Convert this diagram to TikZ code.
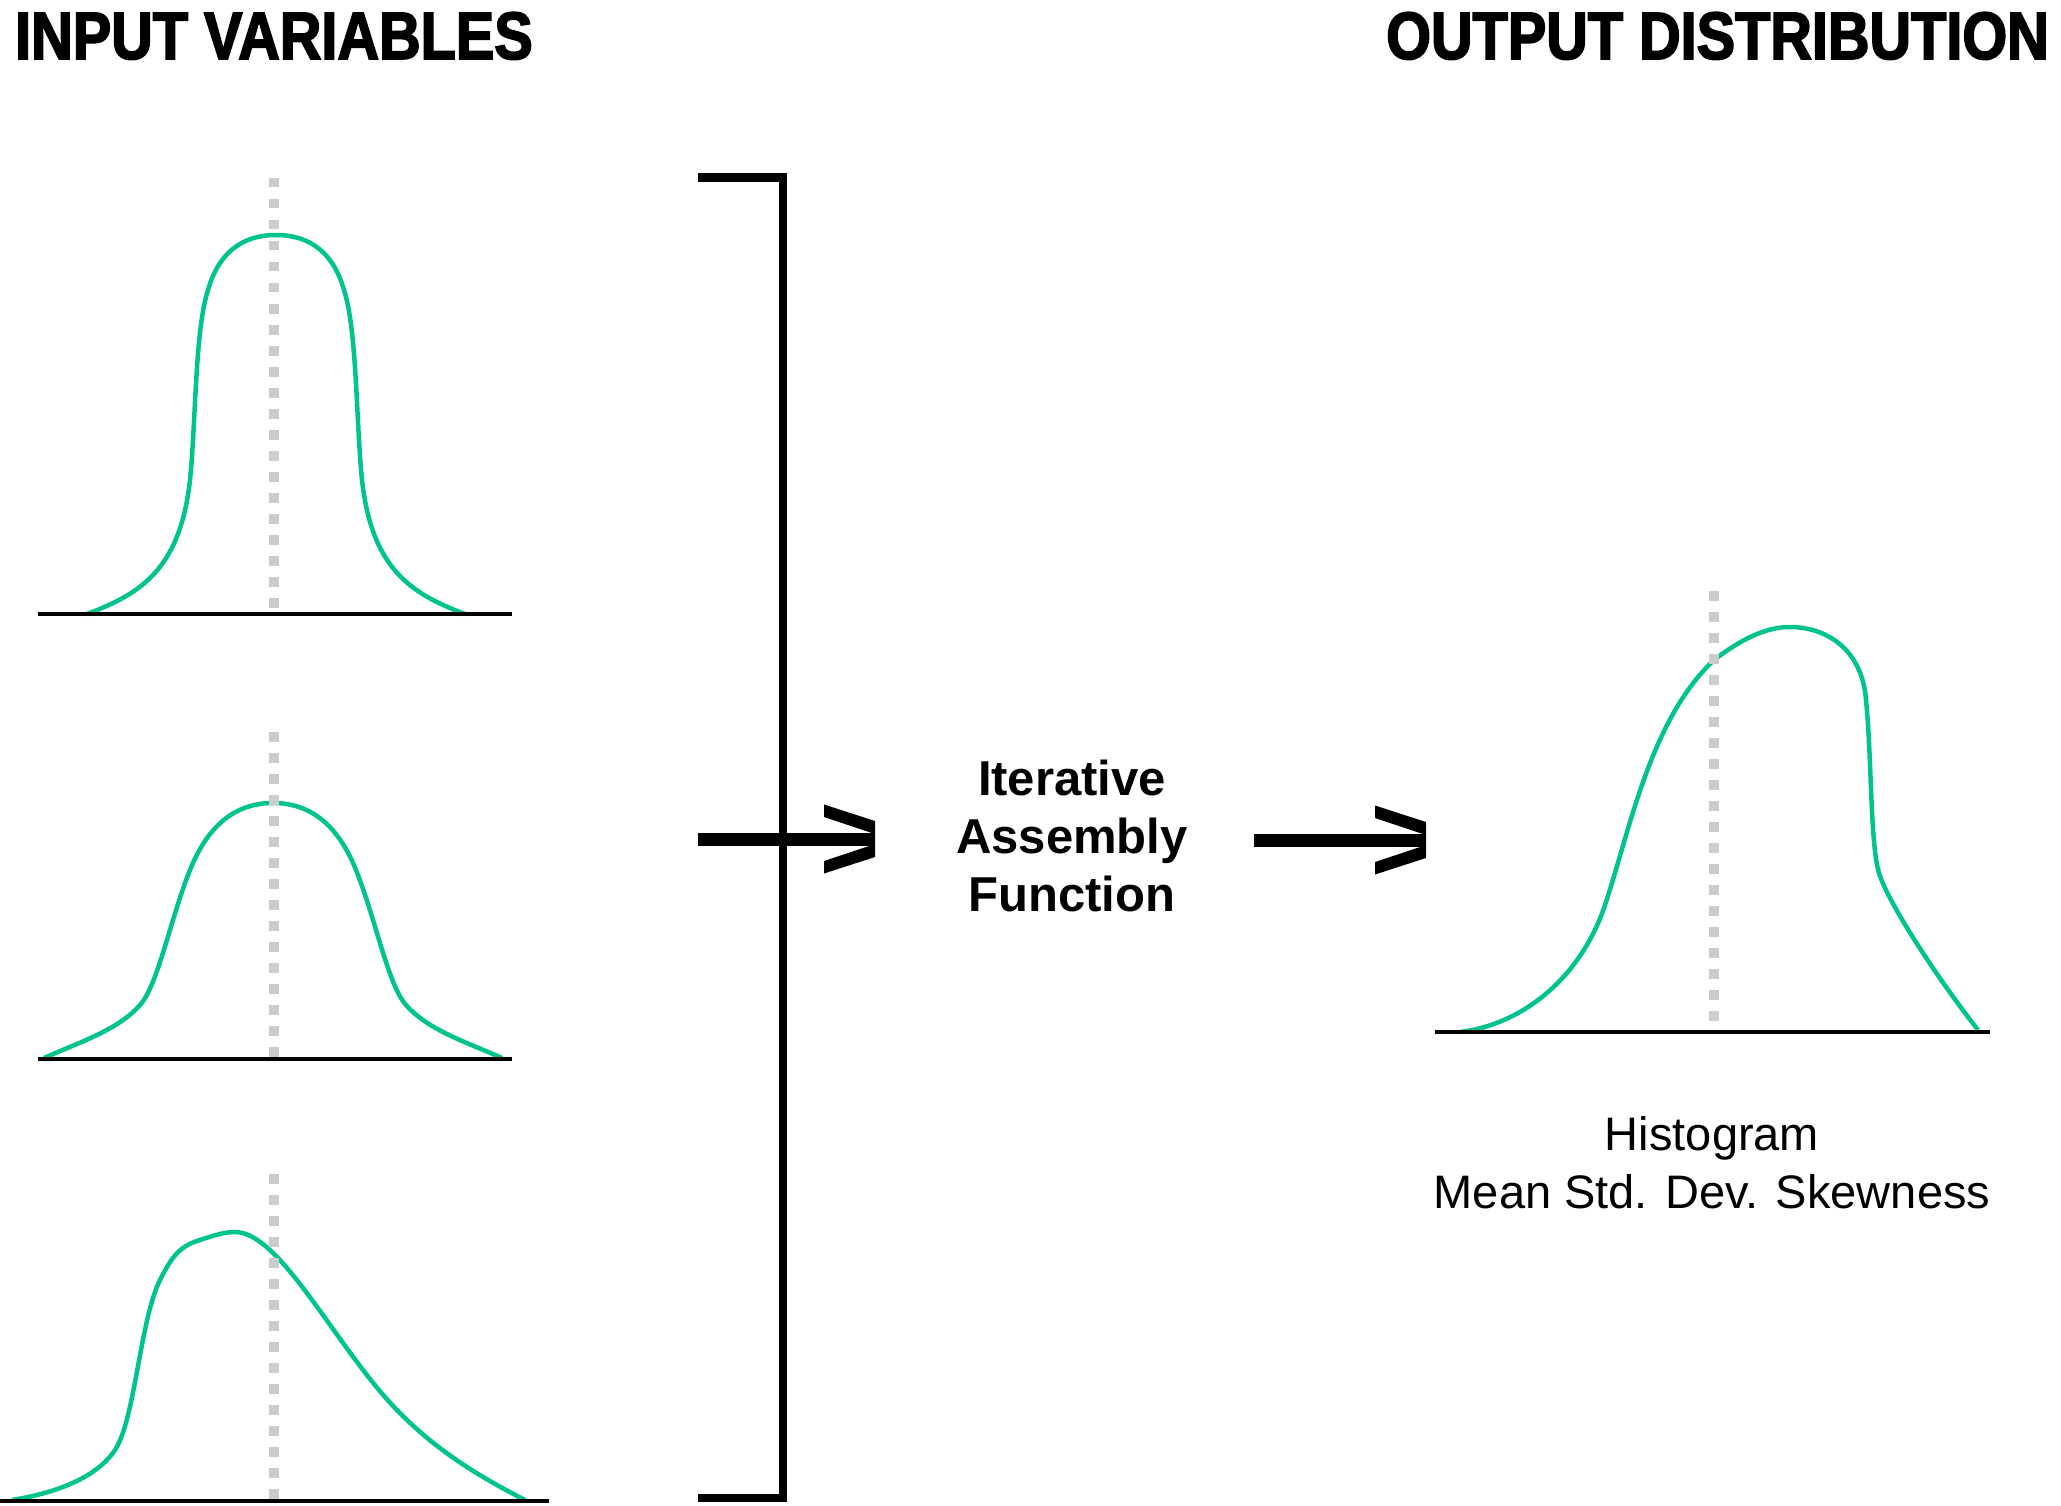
\documentclass[tikz,border=0pt]{standalone}
\usepackage{fontspec}
\setmainfont{Liberation Sans}
\newfontfamily\headfont[FakeStretch=0.86,BoldFeatures={FakeBold=2.5}]{Liberation Sans}
\usepackage{tikz}
\definecolor{curvegreen}{HTML}{00C48C}
\definecolor{meangray}{HTML}{CCCCCC}

\begin{document}
\begin{tikzpicture}[x=1pt, y=-1pt,
        distcurve/.style={curvegreen, line width=4.5pt},
        baseaxis/.style={black, line width=4.5pt},
        meanmark/.style={meangray, line width=9.5pt, dash pattern=on 9.5pt off 11.5pt},
        arrowshaft/.style={black, line width=13pt},
        headtxt/.style={inner sep=0pt, font=\headfont\bfseries\fontsize{67}{70}\selectfont},
        bodytxt/.style={inner sep=0pt, align=center},
        chevron/.pic={\fill[black] (-51,-34.5) -- (0,-18) -- (0,18) -- (-51,34.5) -- (-51,22) -- (0,5) -- (0,-5) -- (-51,-22) -- cycle;}]
        \useasboundingbox (0,0) rectangle (2061,1506);

        % Titles
        \node[headtxt, anchor=base west] (intitle) at (15,59) {INPUT VARIABLES};
        \node[headtxt, anchor=base east] (outtitle) at (2049,59) {OUTPUT DISTRIBUTION};

        % Input variables
        \draw[distcurve] (87,614) .. controls (140,594) and (180,570) .. (190,480)
            .. controls (196,420) and (195,330) .. (208,290)
            .. controls (218,255) and (240,235) .. (276,235)
            .. controls (312,235) and (334,255) .. (344,290)
            .. controls (357,330) and (356,420) .. (362,480)
            .. controls (372,570) and (412,594) .. (465,614);
        \draw[distcurve] (44,1058) .. controls (80,1042) and (118,1030) .. (140,1005)
            .. controls (158,985) and (170,920) .. (190,870)
            .. controls (210,820) and (240,803) .. (273,803)
            .. controls (306,803) and (336,820) .. (356,870)
            .. controls (376,920) and (388,985) .. (406,1005)
            .. controls (428,1030) and (466,1042) .. (502,1058);
        \draw[distcurve] (12,1500) .. controls (50,1494) and (95,1480) .. (115,1450)
            .. controls (135,1420) and (140,1320) .. (160,1280)
            .. controls (172,1256) and (180,1246) .. (200,1240)
            .. controls (215,1235) and (225,1232) .. (235,1232)
            .. controls (280,1232) and (335,1345) .. (395,1408)
            .. controls (435,1450) and (480,1477) .. (525,1500);
        \draw[meanmark] (274,178) -- (274,614);
        \draw[meanmark] (274,732) -- (274,1059);
        \draw[meanmark] (274,1174) -- (274,1501);
        \draw[baseaxis] (38,614) -- (512,614);
        \draw[baseaxis] (38,1059) -- (512,1059);
        \draw[baseaxis] (0,1501) -- (549,1501);

        % Bracket and arrows
        \draw[line width=8.5pt] (698,177.5) -- (783,177.5) -- (783,1498) -- (698,1498);
        \coordinate (brkmid) at (698,839);
        \coordinate (intip) at (875,839);
        \draw[arrowshaft] (brkmid) -- (intip);
        \pic at (intip) {chevron};

        \node[bodytxt, font=\bfseries\fontsize{49}{58}\selectfont] (func) at (1072,836) {Iterative\\Assembly\\Function};

        \coordinate (funcout) at (1254,840);
        \coordinate (outtip) at (1426,840);
        \draw[arrowshaft] (funcout) -- (outtip);
        \pic at (outtip) {chevron};

        % Output distribution
        \draw[distcurve] (1460,1032) .. controls (1520,1025) and (1580,980) .. (1605,905)
            .. controls (1630,830) and (1650,720) .. (1714,660)
            .. controls (1740,640) and (1765,627) .. (1790,627)
            .. controls (1825,627) and (1862,648) .. (1866,700)
            .. controls (1872,760) and (1870,850) .. (1880,876)
            .. controls (1890,905) and (1935,975) .. (1978,1030);
        \draw[meanmark] (1714,591) -- (1714,1032);
        \draw[baseaxis] (1435,1032) -- (1990,1032);

        \node[bodytxt, font=\fontsize{47}{58}\selectfont] (stats) at (1712,1163) {Histogram\\Mean Std. Dev. Skewness};
    \end{tikzpicture}
\end{document}
